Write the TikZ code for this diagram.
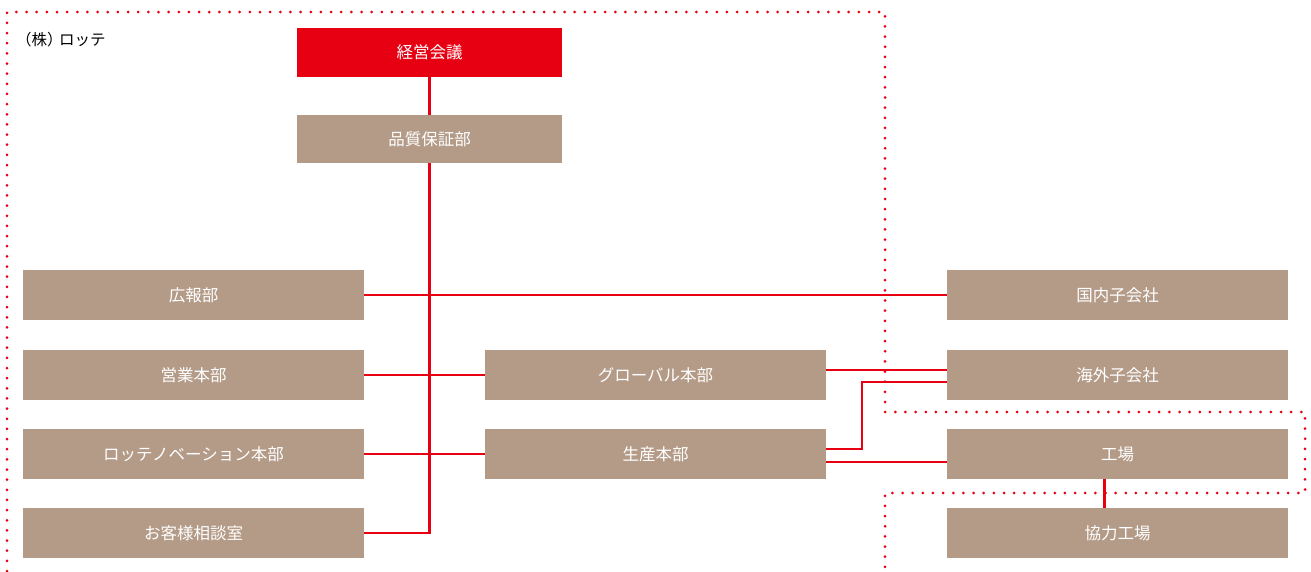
\documentclass[tikz,border=0pt]{standalone}
\usepackage{fontspec}
\newfontfamily\jp{Noto Sans CJK JP}
\definecolor{lred}{HTML}{E60012}
\definecolor{tan}{HTML}{B49B88}
\begin{document}
\begin{tikzpicture}[x=1pt,y=-1pt,
  box/.style={fill=tan,draw=none,inner sep=0pt,outer sep=0pt,minimum width=341pt,minimum height=50pt,text=white,font=\jp\fontsize{16.5}{18}\selectfont},
  topbox/.style={box,minimum width=265pt},
  conn/.style={draw=lred,line width=2.4pt},
  border/.style={draw=lred,line width=3pt,line cap=round,dash pattern=on 0pt off 10.15pt}]
\useasboundingbox (0,0) rectangle (1311,571);
% dotted boundary
\draw[border] (7,571) -- (7,12) -- (885,12) -- (885,412) -- (1305,412) -- (1305,493) -- (885,493) -- (885,571);
\node[anchor=west,inner sep=0pt,font=\jp\fontsize{15.5}{17}\selectfont] (company) at (16,39.5) {（株）\kern-3.5pt ロッテ};
% boxes
\node[topbox,fill=lred,minimum height=49pt] (kaigi) at (429.5,52.5) {経営会議};
\node[topbox,minimum height=48pt] (hinshitsu) at (429.5,139) {品質保証部};
\node[box] (kouhou) at (193.5,295) {広報部};
\node[box] (eigyo) at (193.5,375) {営業本部};
\node[box] (innov) at (193.5,454) {ロッテノベーション本部};
\node[box] (okyaku) at (193.5,533) {お客様相談室};
\node[box] (global) at (655.5,375) {グローバル本部};
\node[box] (seisan) at (655.5,454) {生産本部};
\node[box] (kokunai) at (1117.5,295) {国内子会社};
\node[box] (kaigai) at (1117.5,375) {海外子会社};
\node[box] (koujou) at (1117.5,454) {工場};
\node[box] (kyouryoku) at (1117.5,533) {協力工場};
% connectors
\draw[conn] (kaigi.south) -- (hinshitsu.north);
\draw[conn] (okyaku.east) -| (hinshitsu.south);
\draw[conn] (kouhou.east) -- (kokunai.west);
\draw[conn] (eigyo.east) -- (global.west);
\draw[conn] (innov.east) -- (seisan.west);
\draw[conn] ([yshift=5pt]global.east) -- ([yshift=5pt]kaigai.west);
\draw[conn] ([yshift=5pt]seisan.east) -- ++(36,0) |- ([yshift=-7pt]kaigai.west);
\draw[conn] ([yshift=-8pt]seisan.east) -- ([yshift=-8pt]koujou.west);
\draw[conn] ([xshift=-13pt]koujou.south) -- ([xshift=-13pt]kyouryoku.north);
\end{tikzpicture}
\end{document}
